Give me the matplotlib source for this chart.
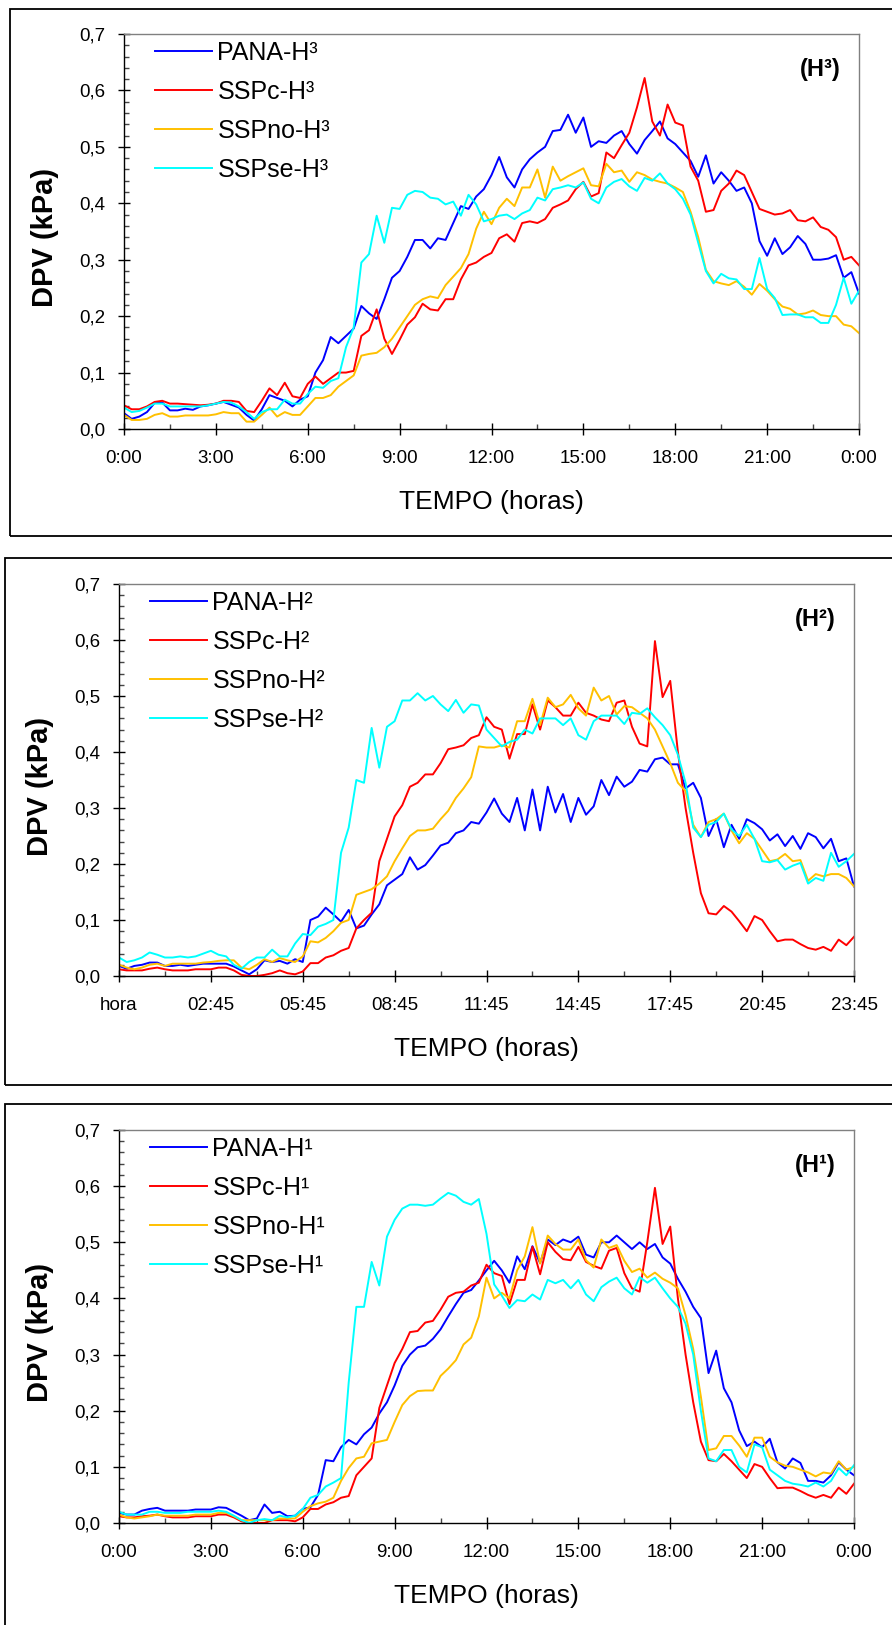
import numpy as np
import matplotlib.pyplot as plt
from matplotlib.patches import Rectangle
from matplotlib.ticker import MultipleLocator, FixedLocator, FuncFormatter

plt.rcParams['font.family'] = ['Liberation Sans', 'DejaVu Sans']

# DPV (kPa) every 15 minutes, 0:00 -> 24:00 (panels H3 and H1)
pana_h3 = [0.028, 0.018, 0.022, 0.030, 0.046, 0.047, 0.033, 0.033, 0.036, 0.034, 0.040, 0.042,
           0.045, 0.048, 0.043, 0.038, 0.025, 0.015, 0.035, 0.060, 0.055, 0.050, 0.040, 0.052,
           0.058, 0.100, 0.122, 0.163, 0.152, 0.165, 0.178, 0.218, 0.205, 0.195, 0.230, 0.268,
           0.280, 0.305, 0.335, 0.335, 0.320, 0.338, 0.335, 0.365, 0.395, 0.390, 0.412, 0.425,
           0.450, 0.482, 0.446, 0.428, 0.460, 0.478, 0.490, 0.500, 0.528, 0.530, 0.557, 0.525,
           0.552, 0.500, 0.510, 0.507, 0.520, 0.528, 0.505, 0.488, 0.512, 0.528, 0.545, 0.515,
           0.505, 0.490, 0.475, 0.447, 0.485, 0.435, 0.455, 0.440, 0.422, 0.428, 0.400, 0.333,
           0.307, 0.338, 0.310, 0.322, 0.342, 0.328, 0.300, 0.300, 0.302, 0.308, 0.268, 0.278,
           0.240]
sspc_h3 = [0.042, 0.035, 0.035, 0.040, 0.048, 0.050, 0.045, 0.045, 0.044, 0.043, 0.042, 0.043,
           0.045, 0.050, 0.050, 0.048, 0.032, 0.030, 0.050, 0.072, 0.060, 0.082, 0.058, 0.055,
           0.080, 0.093, 0.080, 0.090, 0.100, 0.100, 0.103, 0.165, 0.175, 0.212, 0.160, 0.133,
           0.158, 0.185, 0.198, 0.222, 0.212, 0.210, 0.230, 0.230, 0.265, 0.290, 0.295, 0.305,
           0.312, 0.338, 0.345, 0.332, 0.365, 0.368, 0.365, 0.372, 0.392, 0.398, 0.405, 0.425,
           0.438, 0.412, 0.418, 0.490, 0.480, 0.503, 0.525, 0.570, 0.622, 0.545, 0.520, 0.575,
           0.543, 0.538, 0.465, 0.440, 0.385, 0.388, 0.422, 0.435, 0.458, 0.450, 0.420, 0.390,
           0.385, 0.380, 0.382, 0.388, 0.370, 0.368, 0.375, 0.358, 0.353, 0.340, 0.300, 0.305,
           0.290]
sspno_h3 = [0.025, 0.016, 0.016, 0.018, 0.025, 0.028, 0.022, 0.022, 0.024, 0.024, 0.024, 0.024,
            0.026, 0.030, 0.028, 0.028, 0.013, 0.013, 0.025, 0.038, 0.022, 0.030, 0.025, 0.025,
            0.040, 0.055, 0.055, 0.060, 0.075, 0.085, 0.095, 0.130, 0.133, 0.135, 0.145, 0.160,
            0.180, 0.200, 0.220, 0.230, 0.235, 0.232, 0.255, 0.270, 0.285, 0.310, 0.355, 0.385,
            0.363, 0.392, 0.408, 0.395, 0.428, 0.428, 0.460, 0.410, 0.465, 0.440, 0.448, 0.455,
            0.462, 0.432, 0.430, 0.470, 0.455, 0.458, 0.438, 0.455, 0.450, 0.442, 0.438, 0.435,
            0.428, 0.420, 0.385, 0.340, 0.282, 0.262, 0.258, 0.255, 0.262, 0.252, 0.238, 0.257,
            0.245, 0.230, 0.217, 0.213, 0.203, 0.205, 0.210, 0.202, 0.200, 0.200, 0.185, 0.182,
            0.170]
sspse_h3 = [0.038, 0.030, 0.032, 0.038, 0.045, 0.045, 0.040, 0.040, 0.040, 0.040, 0.040, 0.042,
            0.045, 0.048, 0.047, 0.040, 0.030, 0.018, 0.030, 0.035, 0.035, 0.052, 0.045, 0.045,
            0.062, 0.075, 0.073, 0.085, 0.090, 0.145, 0.180, 0.295, 0.310, 0.378, 0.330, 0.392,
            0.390, 0.415, 0.422, 0.420, 0.410, 0.408, 0.398, 0.403, 0.378, 0.415, 0.398, 0.368,
            0.372, 0.378, 0.380, 0.372, 0.382, 0.388, 0.410, 0.405, 0.425, 0.428, 0.432, 0.428,
            0.437, 0.408, 0.400, 0.428, 0.438, 0.443, 0.430, 0.422, 0.445, 0.440, 0.453, 0.435,
            0.425, 0.408, 0.380, 0.330, 0.280, 0.258, 0.275, 0.267, 0.265, 0.248, 0.248, 0.303,
            0.248, 0.232, 0.202, 0.203, 0.203, 0.198, 0.198, 0.188, 0.188, 0.220, 0.268, 0.222,
            0.245]

# H2 panel uses the spreadsheet rows directly: first row is the "hora" header slot
h2_labels = ["hora", "02:45", "05:45", "08:45", "11:45", "14:45", "17:45", "20:45", "23:45"]
pana_h2 = [0.018, 0.013, 0.018, 0.020, 0.024, 0.024, 0.018, 0.018, 0.020, 0.018, 0.020, 0.022,
           0.022, 0.022, 0.022, 0.017, 0.010, 0.003, 0.012, 0.028, 0.025, 0.027, 0.022, 0.030,
           0.025, 0.100, 0.106, 0.122, 0.110, 0.097, 0.118, 0.085, 0.090, 0.110, 0.128, 0.162,
           0.172, 0.182, 0.212, 0.190, 0.198, 0.215, 0.233, 0.238, 0.255, 0.260, 0.275, 0.272,
           0.292, 0.317, 0.290, 0.275, 0.318, 0.260, 0.333, 0.260, 0.338, 0.292, 0.325, 0.275,
           0.318, 0.288, 0.303, 0.350, 0.323, 0.356, 0.338, 0.347, 0.368, 0.365, 0.387, 0.390,
           0.378, 0.378, 0.335, 0.345, 0.318, 0.250, 0.280, 0.230, 0.270, 0.245, 0.280, 0.273,
           0.262, 0.242, 0.253, 0.232, 0.250, 0.227, 0.255, 0.248, 0.228, 0.245, 0.205, 0.210,
           0.160]
sspc_h2 = [0.012, 0.010, 0.010, 0.010, 0.013, 0.015, 0.012, 0.010, 0.010, 0.010, 0.012, 0.012,
           0.012, 0.015, 0.015, 0.010, 0.002, 0.000, 0.000, 0.002, 0.005, 0.010, 0.005, 0.003,
           0.008, 0.023, 0.023, 0.033, 0.037, 0.045, 0.050, 0.085, 0.100, 0.113, 0.205, 0.245,
           0.285, 0.305, 0.338, 0.345, 0.360, 0.360, 0.380, 0.405, 0.408, 0.412, 0.425, 0.430,
           0.462, 0.445, 0.440, 0.388, 0.432, 0.432, 0.485, 0.440, 0.492, 0.480, 0.465, 0.465,
           0.488, 0.470, 0.465, 0.458, 0.455, 0.488, 0.492, 0.445, 0.415, 0.410, 0.598, 0.498,
           0.527, 0.400, 0.300, 0.220, 0.148, 0.112, 0.110, 0.125, 0.115, 0.098, 0.080, 0.107,
           0.100, 0.080, 0.062, 0.065, 0.065, 0.057, 0.050, 0.047, 0.052, 0.045, 0.065, 0.055,
           0.070]
sspno_h2 = [0.020, 0.015, 0.012, 0.015, 0.020, 0.022, 0.018, 0.022, 0.022, 0.022, 0.022, 0.024,
            0.025, 0.027, 0.028, 0.028, 0.015, 0.012, 0.020, 0.030, 0.025, 0.032, 0.028, 0.025,
            0.035, 0.062, 0.060, 0.068, 0.080, 0.095, 0.100, 0.145, 0.150, 0.155, 0.165, 0.178,
            0.205, 0.228, 0.250, 0.260, 0.260, 0.263, 0.280, 0.295, 0.318, 0.335, 0.355, 0.410,
            0.408, 0.408, 0.412, 0.408, 0.455, 0.455, 0.495, 0.448, 0.497, 0.480, 0.485, 0.502,
            0.478, 0.465, 0.515, 0.492, 0.500, 0.467, 0.482, 0.480, 0.470, 0.460, 0.440, 0.410,
            0.380, 0.345, 0.330, 0.270, 0.248, 0.275, 0.280, 0.290, 0.260, 0.237, 0.255, 0.245,
            0.225, 0.205, 0.208, 0.218, 0.205, 0.207, 0.170, 0.182, 0.178, 0.182, 0.182, 0.175,
            0.160]
sspse_h2 = [0.033, 0.025, 0.028, 0.033, 0.042, 0.038, 0.033, 0.033, 0.035, 0.033, 0.035, 0.040,
            0.045, 0.038, 0.035, 0.020, 0.013, 0.025, 0.033, 0.033, 0.047, 0.035, 0.035, 0.058,
            0.075, 0.073, 0.088, 0.093, 0.100, 0.220, 0.265, 0.350, 0.345, 0.443, 0.372, 0.445,
            0.455, 0.492, 0.492, 0.505, 0.492, 0.500, 0.485, 0.473, 0.493, 0.470, 0.485, 0.483,
            0.440, 0.425, 0.410, 0.418, 0.422, 0.440, 0.433, 0.460, 0.460, 0.460, 0.448, 0.460,
            0.430, 0.422, 0.455, 0.465, 0.465, 0.465, 0.450, 0.470, 0.468, 0.478, 0.462, 0.448,
            0.430, 0.395, 0.345, 0.265, 0.248, 0.270, 0.275, 0.290, 0.262, 0.250, 0.270, 0.245,
            0.205, 0.203, 0.207, 0.190, 0.197, 0.202, 0.165, 0.175, 0.170, 0.220, 0.195, 0.205,
            0.218]

pana_h1 = [0.018, 0.015, 0.015, 0.022, 0.025, 0.027, 0.022, 0.022, 0.022, 0.022, 0.024, 0.024,
           0.024, 0.028, 0.027, 0.020, 0.013, 0.005, 0.008, 0.033, 0.018, 0.020, 0.012, 0.013,
           0.025, 0.028, 0.050, 0.112, 0.110, 0.135, 0.148, 0.140, 0.158, 0.170, 0.195, 0.215,
           0.245, 0.280, 0.300, 0.313, 0.316, 0.328, 0.345, 0.368, 0.390, 0.410, 0.415, 0.432,
           0.450, 0.467, 0.450, 0.428, 0.475, 0.452, 0.493, 0.463, 0.505, 0.495, 0.505, 0.500,
           0.510, 0.478, 0.473, 0.500, 0.500, 0.512, 0.500, 0.488, 0.500, 0.488, 0.497, 0.473,
           0.462, 0.435, 0.412, 0.385, 0.365, 0.267, 0.307, 0.240, 0.215, 0.165, 0.137, 0.145,
           0.135, 0.150, 0.108, 0.097, 0.115, 0.107, 0.075, 0.075, 0.072, 0.085, 0.108, 0.095,
           0.085]
sspc_h1 = [0.012, 0.010, 0.010, 0.012, 0.013, 0.015, 0.012, 0.010, 0.010, 0.010, 0.012, 0.012,
           0.012, 0.015, 0.015, 0.010, 0.003, 0.000, 0.000, 0.000, 0.005, 0.005, 0.005, 0.003,
           0.010, 0.025, 0.025, 0.033, 0.037, 0.045, 0.048, 0.085, 0.100, 0.115, 0.205, 0.245,
           0.285, 0.310, 0.340, 0.342, 0.357, 0.360, 0.380, 0.403, 0.410, 0.412, 0.423, 0.428,
           0.460, 0.445, 0.440, 0.390, 0.433, 0.433, 0.492, 0.443, 0.500, 0.483, 0.470, 0.468,
           0.492, 0.465, 0.458, 0.453, 0.485, 0.490, 0.445, 0.418, 0.412, 0.500, 0.597, 0.497,
           0.528, 0.400, 0.300, 0.215, 0.145, 0.112, 0.110, 0.123, 0.110, 0.095, 0.080, 0.105,
           0.100, 0.080, 0.062, 0.063, 0.063, 0.057, 0.050, 0.045, 0.050, 0.045, 0.063, 0.052,
           0.070]
sspno_h1 = [0.015, 0.010, 0.008, 0.010, 0.012, 0.015, 0.013, 0.013, 0.013, 0.013, 0.015, 0.015,
            0.015, 0.018, 0.018, 0.012, 0.005, 0.005, 0.005, 0.005, 0.005, 0.008, 0.008, 0.008,
            0.020, 0.030, 0.035, 0.038, 0.045, 0.075, 0.098, 0.115, 0.118, 0.142, 0.145, 0.148,
            0.180, 0.210, 0.226, 0.235, 0.236, 0.236, 0.262, 0.275, 0.290, 0.318, 0.330, 0.368,
            0.437, 0.400, 0.410, 0.400, 0.450, 0.475, 0.527, 0.462, 0.512, 0.497, 0.487, 0.487,
            0.505, 0.468, 0.455, 0.505, 0.490, 0.495, 0.467, 0.447, 0.453, 0.437, 0.446, 0.435,
            0.428, 0.418, 0.370, 0.310, 0.225, 0.130, 0.133, 0.155, 0.155, 0.138, 0.118, 0.152,
            0.152, 0.118, 0.108, 0.102, 0.100, 0.095, 0.090, 0.083, 0.090, 0.088, 0.110, 0.095,
            0.100]
sspse_h1 = [0.020, 0.015, 0.015, 0.015, 0.020, 0.020, 0.018, 0.018, 0.018, 0.020, 0.020, 0.020,
            0.020, 0.022, 0.020, 0.013, 0.005, 0.000, 0.005, 0.007, 0.005, 0.013, 0.010, 0.013,
            0.025, 0.045, 0.050, 0.065, 0.072, 0.080, 0.250, 0.385, 0.385, 0.465, 0.423, 0.510,
            0.540, 0.560, 0.567, 0.567, 0.565, 0.567, 0.578, 0.588, 0.583, 0.572, 0.567, 0.577,
            0.515, 0.425, 0.405, 0.383, 0.397, 0.395, 0.407, 0.398, 0.433, 0.427, 0.433, 0.418,
            0.433, 0.407, 0.395, 0.420, 0.430, 0.437, 0.418, 0.407, 0.438, 0.428, 0.437, 0.418,
            0.400, 0.385, 0.355, 0.300, 0.200, 0.115, 0.110, 0.130, 0.130, 0.100, 0.090, 0.140,
            0.135, 0.095, 0.085, 0.075, 0.070, 0.068, 0.065, 0.072, 0.065, 0.075, 0.098, 0.085,
            0.103]

series_names = ["PANA", "SSPc", "SSPno", "SSPse"]
series_colors = ["#0000FF", "#FF0000", "#FFC000", "#00FFFF"]
hour_labels = ["0:00", "3:00", "6:00", "9:00", "12:00", "15:00", "18:00", "21:00", "0:00"]

W, H = 892, 1625
fig = plt.figure(figsize=(W / 100, H / 100), dpi=100)


def px_axes(left, top, right, bottom):
    return fig.add_axes([left / W, 1 - bottom / H, (right - left) / W, (bottom - top) / H])


def frame(x0, y0, x1, y1):
    fig.patches.append(Rectangle((x0 / W, 1 - y1 / H), (x1 - x0) / W, (y1 - y0) / H,
                                 transform=fig.transFigure, fill=False,
                                 edgecolor="black", linewidth=1.3))


def draw_panel(ax, x, data, sup, tag, ticks, minor, labels, xmax):
    for vals, name, col in zip(data, series_names, series_colors):
        ax.plot(x[:len(vals)], vals, color=col, lw=1.4, label=f"{name}-H{sup}")

    ax.set_xlim(0, xmax)
    ax.set_ylim(0, 0.7)
    ax.xaxis.set_major_locator(FixedLocator(ticks))
    ax.xaxis.set_minor_locator(FixedLocator(minor))
    ax.set_xticklabels(labels)
    ax.yaxis.set_major_locator(MultipleLocator(0.1))
    ax.yaxis.set_minor_locator(MultipleLocator(0.02))
    ax.yaxis.set_major_formatter(FuncFormatter(lambda v, p: f"{v:.1f}".replace(".", ",")))

    ax.tick_params(which="major", direction="inout", length=8.5, width=1.0,
                   labelsize=13.5, color="black")
    ax.tick_params(axis="x", which="major", pad=11)
    ax.tick_params(axis="y", which="major", pad=9)
    ax.tick_params(which="minor", direction="in", length=3.6, width=1.0, color="#444444")

    for side in ("left", "bottom"):
        ax.spines[side].set_color("black")
        ax.spines[side].set_linewidth(1.0)
    for side in ("top", "right"):
        ax.spines[side].set_color("#808080")
        ax.spines[side].set_linewidth(1.0)

    ax.set_xlabel("TEMPO (horas)", fontsize=19)
    ax.xaxis.set_label_coords(0.5, -0.185)
    ax.xaxis.label.set_va("center")
    ax.set_ylabel("DPV (kPa)", fontsize=21, fontweight="bold")
    ax.yaxis.set_label_coords(-0.108, 0.484)
    ax.yaxis.label.set_va("center")

    ax.legend(loc="upper left", bbox_to_anchor=(0.042, 0.983), frameon=False,
              fontsize=18, handlelength=2.28, handletextpad=0.22,
              labelspacing=0.6, borderpad=0, borderaxespad=0)
    ax.text(0.947, 0.909, tag, transform=ax.transAxes, ha="center", va="center",
            fontsize=17, fontweight="bold")


hours = np.arange(97) * 0.25
rows = np.arange(97)

# panel boxes
frame(10, 9, 960, 536)
frame(5, 558, 960, 1085)
frame(5, 1104, 960, 1700)

ax1 = px_axes(124, 34, 859, 429)
draw_panel(ax1, hours, [pana_h3, sspc_h3, sspno_h3, sspse_h3], "³", "(H³)",
           np.arange(0, 25, 3), np.arange(1.5, 24, 3), hour_labels, 24)

ax2 = px_axes(119, 584, 854, 976)
draw_panel(ax2, rows, [pana_h2, sspc_h2, sspno_h2, sspse_h2], "²", "(H²)",
           np.arange(0, 97, 12), np.arange(6, 96, 12), h2_labels, 96)

ax3 = px_axes(119, 1130, 854, 1523)
draw_panel(ax3, hours, [pana_h1, sspc_h1, sspno_h1, sspse_h1], "¹", "(H¹)",
           np.arange(0, 25, 3), np.arange(1.5, 24, 3), hour_labels, 24)

fig.savefig("out.png", dpi=100)
